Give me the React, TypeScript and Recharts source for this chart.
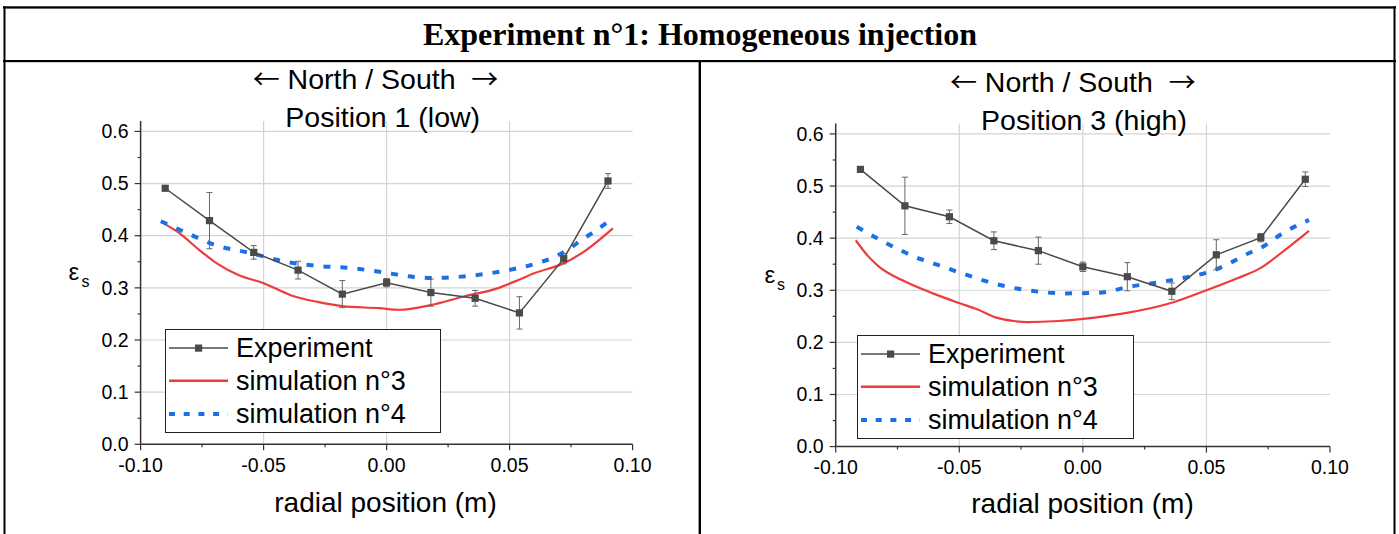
import React from 'react';
import { LineChart, Line, XAxis, YAxis, CartesianGrid, ErrorBar, Legend } from 'recharts';

const FONT = '"Liberation Sans", Arial, Helvetica, sans-serif';
const SERIF = '"Liberation Serif", "Times New Roman", serif';
const ARROW_FONT = '"Noto Sans CJK JP", "DejaVu Sans", sans-serif';

// ---------- data ----------
const radialPositions = [-0.09, -0.072, -0.054, -0.036, -0.018, 0, 0.018, 0.036, 0.054, 0.072, 0.09];

// Position 1 (low)
const expLow = [0.491, 0.429, 0.368, 0.334, 0.288, 0.310, 0.291, 0.280, 0.252, 0.356, 0.505];
const expLowErr = [0.004, 0.054, 0.013, 0.017, 0.026, 0.008, 0.026, 0.015, 0.031, 0.010, 0.014];
const sim3LowX = [-0.0915, -0.084, -0.077, -0.069, -0.060, -0.050, -0.039, -0.028, -0.018, -0.003, 0.005, 0.018, 0.031, 0.045, 0.052, 0.060, 0.072, 0.081, 0.092];
const sim3LowY = [0.426, 0.404, 0.376, 0.347, 0.324, 0.309, 0.286, 0.273, 0.265, 0.261, 0.258, 0.267, 0.283, 0.299, 0.312, 0.328, 0.347, 0.372, 0.414];
const sim4LowX = [-0.0918, -0.082, -0.069, -0.0555, -0.042, -0.028, -0.0145, -0.003, 0.011, 0.019, 0.039, 0.0526, 0.061, 0.0685, 0.0739, 0.0793, 0.0854, 0.0918];
const sim4LowY = [0.428, 0.407, 0.381, 0.367, 0.351, 0.342, 0.338, 0.331, 0.321, 0.319, 0.326, 0.337, 0.347, 0.360, 0.374, 0.392, 0.411, 0.433];

// Position 3 (high)
const expHigh = [0.532, 0.462, 0.441, 0.395, 0.376, 0.345, 0.326, 0.298, 0.368, 0.401, 0.513];
const expHighErr = [0.003, 0.055, 0.013, 0.017, 0.026, 0.009, 0.027, 0.016, 0.029, 0.008, 0.014];
const sim3HighX = [-0.0919, -0.087, -0.0824, -0.0734, -0.0607, -0.0498, -0.0425, -0.0353, -0.028, -0.0226, -0.0099, 0.0002, 0.0172, 0.0353, 0.05, 0.0625, 0.0716, 0.0825, 0.0915];
const sim3HighY = [0.396, 0.366, 0.345, 0.320, 0.294, 0.275, 0.263, 0.248, 0.241, 0.239, 0.241, 0.245, 0.256, 0.275, 0.300, 0.323, 0.342, 0.380, 0.414];
const sim4HighX = [-0.0915, -0.0806, -0.0743, -0.0679, -0.0607, -0.048, -0.0353, -0.0208, -0.0072, 0.0064, 0.019, 0.0317, 0.0408, 0.0517, 0.0607, 0.0671, 0.073, 0.0807, 0.0915];
const sim4HighY = [0.422, 0.393, 0.378, 0.364, 0.352, 0.331, 0.312, 0.299, 0.294, 0.295, 0.307, 0.316, 0.324, 0.336, 0.355, 0.371, 0.384, 0.409, 0.435];

// ticks / labels
const xTicks = [-0.1, -0.075, -0.05, -0.025, 0, 0.025, 0.05, 0.075, 0.1];
const yTicks = [0, 0.05, 0.1, 0.15, 0.2, 0.25, 0.3, 0.35, 0.4, 0.45, 0.5, 0.55, 0.6];
const gridX = [-0.05, 0, 0.05];
const gridY = [0.1, 0.2, 0.3, 0.4, 0.5, 0.6];
const legendNames = ['Experiment', 'simulation n°3', 'simulation n°4'];
const mainTitle = 'Experiment n°1: Homogeneous injection';
const directionText = ' North / South ';
const panelTitles = ['Position 1 (low)', 'Position 3 (high)'];
const xLabel = 'radial position (m)';

const EXP_COLOR = '#4a4a4a';
const ERR_COLOR = '#666666';
const RED = '#ef3b3b';
const BLUE = '#1c6fe6';
const AXIS = '#333333';

const XTick = (props: any) => {
  const { x, y, index, payload } = props;
  const major = index % 2 === 0;
  return (
    <g>
      <line x1={x} x2={x} y1={y} y2={y + (major ? 6 : 3)} stroke={AXIS} strokeWidth={1.2} />
      {major && (
        <text x={x} y={y + 27.5} textAnchor="middle" fontSize={19.5} fontFamily={FONT} fill="#000">
          {Number(payload.value).toFixed(2)}
        </text>
      )}
    </g>
  );
};

const YTick = (props: any) => {
  const { x, y, index, payload } = props;
  const major = index % 2 === 0;
  return (
    <g>
      <line x1={x - (major ? 6 : 3)} x2={x} y1={y} y2={y} stroke={AXIS} strokeWidth={1.2} />
      {major && (
        <text x={x - 12} y={y + 6.7} textAnchor="end" fontSize={19.5} fontFamily={FONT} fill="#000">
          {Number(payload.value).toFixed(1)}
        </text>
      )}
    </g>
  );
};

const SquareDot = (props: any) => {
  const { cx, cy, index } = props;
  if (cx == null || cy == null) return <g key={`d${index}`} />;
  return <rect key={`d${index}`} x={cx - 3.6} y={cy - 3.6} width={7.2} height={7.2} fill={EXP_COLOR} />;
};

const LegendBox = ({ w, h }: { w: number; h: number }) => {
  const rows = [19.5, 52.2, 85.5];
  return (
    <div style={{ width: w, height: h, boxSizing: 'border-box', border: '1.5px solid #222', background: '#fff' }}>
      <svg width={w - 3} height={h - 3} style={{ display: 'block' }}>
        <line x1={3} x2={62} y1={rows[0] - 1.5} y2={rows[0] - 1.5} stroke={EXP_COLOR} strokeWidth={1.5} />
        <rect x={29} y={rows[0] - 5} width={7.2} height={7.2} fill={EXP_COLOR} />
        <line x1={3} x2={62} y1={rows[1] - 1.5} y2={rows[1] - 1.5} stroke={RED} strokeWidth={2.5} />
        <line x1={3} x2={62} y1={rows[2] - 1.5} y2={rows[2] - 1.5} stroke={BLUE} strokeWidth={4} strokeDasharray="6 8.7" />
        {legendNames.map((n, i) => (
          <text key={n} x={70} y={rows[i] - 1.5 + 9.3} fontSize={27} fontFamily={FONT} fill="#000">
            {n}
          </text>
        ))}
      </svg>
    </div>
  );
};

type PanelProps = {
  left: number;
  width: number;
  plotLeft: number;
  plotRight: number;
  plotTop: number;
  plotBottom: number;
  exp: number[];
  err: number[];
  s3x: number[];
  s3y: number[];
  s4x: number[];
  s4y: number[];
  legend: { x: number; y: number; w: number; h: number };
};

const Panel = (p: PanelProps) => {
  const expData = radialPositions.map((x, i) => ({ x, y: p.exp[i], err: p.err[i] }));
  const s3 = p.s3x.map((x, i) => ({ x, y: p.s3y[i] }));
  const s4 = p.s4x.map((x, i) => ({ x, y: p.s4y[i] }));
  const YW = 60;
  const XH = 30;
  const H = 534;
  const margin = {
    left: p.plotLeft - YW,
    right: p.width - p.plotRight,
    top: p.plotTop,
    bottom: H - p.plotBottom - XH,
  };
  return (
    <div style={{ position: 'absolute', left: p.left, top: 0 }}>
      <LineChart width={p.width} height={H} margin={margin}>
        <CartesianGrid horizontalValues={gridY} verticalValues={gridX} stroke="#d4d4d4" strokeWidth={1.2} />
        <XAxis
          type="number"
          dataKey="x"
          domain={[-0.1, 0.1]}
          ticks={xTicks}
          interval={0}
          allowDataOverflow
          height={XH}
          tickLine={false}
          tickSize={0}
          tickMargin={0}
          tick={(t: any) => <XTick {...t} />}
          axisLine={{ stroke: AXIS, strokeWidth: 1.5 }}
        />
        <YAxis
          type="number"
          domain={[0, 0.62]}
          ticks={yTicks}
          interval={0}
          allowDataOverflow
          width={YW}
          tickLine={false}
          tickSize={0}
          tickMargin={0}
          tick={(t: any) => <YTick {...t} />}
          axisLine={{ stroke: AXIS, strokeWidth: 1.5 }}
        />
        <Legend
          layout="vertical"
          align="center"
          verticalAlign="middle"
          wrapperStyle={{ left: p.legend.x - p.left, top: p.legend.y, width: p.legend.w, height: p.legend.h }}
          content={() => <LegendBox w={p.legend.w} h={p.legend.h} />}
        />
        <Line
          data={s3}
          dataKey="y"
          name={legendNames[1]}
          type="monotone"
          stroke={RED}
          strokeWidth={2.2}
          dot={false}
          activeDot={false}
          isAnimationActive={false}
        />
        <Line
          data={s4}
          dataKey="y"
          name={legendNames[2]}
          type="monotone"
          stroke={BLUE}
          strokeWidth={4}
          strokeDasharray="7 10"
          dot={false}
          activeDot={false}
          isAnimationActive={false}
        />
        <Line
          data={expData}
          dataKey="y"
          name={legendNames[0]}
          type="linear"
          stroke={EXP_COLOR}
          strokeWidth={1.5}
          dot={(d: any) => <SquareDot {...d} />}
          activeDot={false}
          isAnimationActive={false}
        >
          <ErrorBar dataKey="err" direction="y" width={3} stroke={ERR_COLOR} strokeWidth={1} isAnimationActive={false} />
        </Line>
      </LineChart>
    </div>
  );
};

const DirectionTitle = ({ x, y }: { x: number; y: number }) => (
  <text x={x} y={y} textAnchor="middle" fontFamily={FONT} fontSize={28.5} fill="#000" style={{ whiteSpace: 'pre' }}>
    <tspan fontFamily={ARROW_FONT} fontSize={27}>←</tspan>
    {directionText + ' '}
    <tspan fontFamily={ARROW_FONT} fontSize={27}>→</tspan>
  </text>
);

export default function App() {
  return (
    <div
      style={{
        position: 'absolute',
        left: 0,
        top: 0,
        width: 1399,
        height: 534,
        background: '#fff',
        overflow: 'hidden',
        fontFamily: FONT,
      }}
    >
      <Panel
        left={0}
        width={700}
        plotLeft={140.6}
        plotRight={632.6}
        plotTop={121}
        plotBottom={444.3}
        exp={expLow}
        err={expLowErr}
        s3x={sim3LowX}
        s3y={sim3LowY}
        s4x={sim4LowX}
        s4y={sim4LowY}
        legend={{ x: 165.2, y: 329.3, w: 275.5, h: 104 }}
      />
      <Panel
        left={700}
        width={699}
        plotLeft={135.7}
        plotRight={630}
        plotTop={123.5}
        plotBottom={446.6}
        exp={expHigh}
        err={expHighErr}
        s3x={sim3HighX}
        s3y={sim3HighY}
        s4x={sim4HighX}
        s4y={sim4HighY}
        legend={{ x: 856.7, y: 334.7, w: 277, h: 104 }}
      />
      <svg
        width={1399}
        height={534}
        style={{ position: 'absolute', left: 0, top: 0, pointerEvents: 'none' }}
      >
        {/* table frame */}
        <rect x={3} y={6.3} width={1393} height={2.3} fill="#000" />
        <rect x={3} y={60} width={1393} height={2.2} fill="#000" />
        <rect x={3.5} y={6.3} width={2} height={528} fill="#000" />
        <rect x={1393.5} y={6.3} width={2} height={528} fill="#000" />
        <rect x={698.6} y={60} width={2.4} height={474} fill="#000" />
        <text x={700} y={45} textAnchor="middle" fontFamily={SERIF} fontWeight="bold" fontSize={32} fill="#000">
          {mainTitle}
        </text>
        {/* left panel texts */}
        <DirectionTitle x={375.5} y={89.3} />
        <text x={382.7} y={126.7} textAnchor="middle" fontFamily={FONT} fontSize={28.5} fill="#000">
          {panelTitles[0]}
        </text>
        <text x={385.5} y={511.7} textAnchor="middle" fontFamily={FONT} fontSize={28} fill="#000">
          {xLabel}
        </text>
        <text x={68.5} y={280} fontFamily={FONT} fontSize={24} fill="#000">
          ε<tspan x={81.5} y={286.5} fontSize={16}>s</tspan>
        </text>
        {/* right panel texts */}
        <DirectionTitle x={1072.8} y={91.7} />
        <text x={1084} y={130} textAnchor="middle" fontFamily={FONT} fontSize={28.5} fill="#000">
          {panelTitles[1]}
        </text>
        <text x={1082.5} y={513.3} textAnchor="middle" fontFamily={FONT} fontSize={28} fill="#000">
          {xLabel}
        </text>
        <text x={764.5} y={283} fontFamily={FONT} fontSize={24} fill="#000">
          ε<tspan x={777} y={290} fontSize={16}>s</tspan>
        </text>
      </svg>
    </div>
  );
}
